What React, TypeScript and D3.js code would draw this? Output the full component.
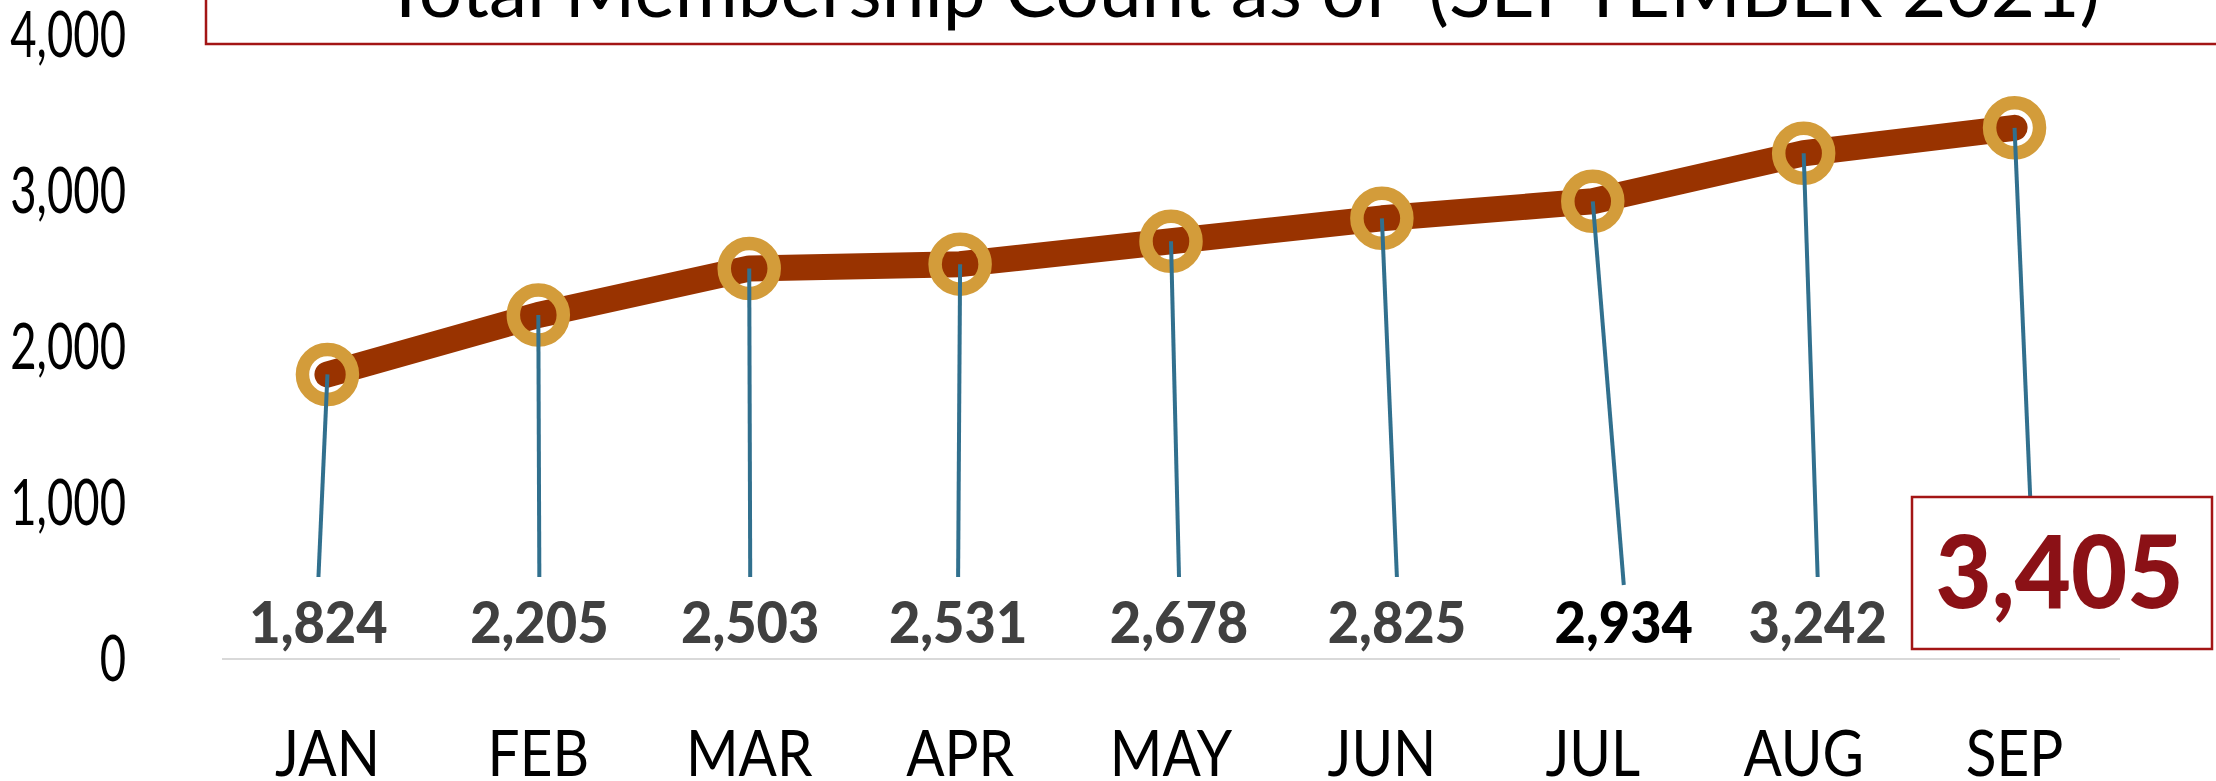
import React from 'react';
import * as d3 from 'd3';

const months = ['JAN', 'FEB', 'MAR', 'APR', 'MAY', 'JUN', 'JUL', 'AUG', 'SEP'];
const members = [1824, 2205, 2503, 2531, 2678, 2825, 2934, 3242, 3405];
const yTicks = [0, 1000, 2000, 3000, 4000];
const titleText = 'Total Membership Count as of  (SEPTEMBER 2021)';

// layout: horizontal shift of each callout label from its category centre (px)
const labelShift = [-9, 1, 1, -2, 8, 15, 31, 14, 20];
const leaderDrop = [0, 0, 0, 0, 0, 0, 8, 0, 0];

const FONT = 'Lato, "Open Sans", sans-serif';

export default function App() {
  const W = 2216;
  const H = 781;
  const x = d3.scaleBand<string>().domain(months).range([222, 2120]).padding(0);
  const cx = (m: string) => (x(m) as number) + x.bandwidth() / 2;
  const y = d3.scaleLinear().domain([0, 4000]).range([659, 35]);
  const fmt = d3.format(',');
  const lineGen = d3
    .line<number>()
    .x((_d, i) => cx(months[i]))
    .y((d) => y(d));

  const labelBase = 643;
  const last = members.length - 1;

  return (
    <svg
      width={W}
      height={H}
      style={{ position: 'absolute', left: 0, top: 0, background: '#fff' }}
      fontFamily={FONT}
    >
      {/* title box */}
      <rect x={206} y={-20} width={2120} height={64} fill="#fff" stroke="#A31515" strokeWidth={2.5} />
      <text
        x={383}
        y={17}
        fontSize={76}
        textLength={1717}
        lengthAdjust="spacingAndGlyphs"
        fill="#000"
        style={{ whiteSpace: 'pre' }}
      >
        {titleText}
      </text>

      {/* y axis labels */}
      {yTicks.map((t) => (
        <text
          key={t}
          transform={`translate(126,${y(t) + 22}) scale(0.71,1)`}
          textAnchor="end"
          fontSize={64}
          fill="#000"
        >
          {fmt(t)}
        </text>
      ))}

      {/* baseline */}
      <line x1={222} x2={2120} y1={y(0)} y2={y(0)} stroke="#D9D9D9" strokeWidth={2} />

      {/* month labels */}
      {months.map((m) => (
        <text
          key={m}
          transform={`translate(${cx(m)},776) scale(0.9,1)`}
          textAnchor="middle"
          fontSize={63}
          fill="#000"
        >
          {m}
        </text>
      ))}

      {/* data line */}
      <path
        d={lineGen(members) || ''}
        fill="none"
        stroke="#993300"
        strokeWidth={26}
        strokeLinejoin="round"
        strokeLinecap="round"
      />

      {/* markers */}
      {members.map((v, i) => (
        <circle key={i} cx={cx(months[i])} cy={y(v)} r={25} fill="none" stroke="#D39C3A" strokeWidth={13.5} />
      ))}

      {/* leader lines */}
      {members.map((v, i) => (
        <line
          key={i}
          x1={cx(months[i])}
          y1={y(v)}
          x2={cx(months[i]) + labelShift[i]}
          y2={i === last ? 600 : labelBase - 66 + leaderDrop[i]}
          stroke="#31708E"
          strokeWidth={4}
        />
      ))}

      {/* data labels */}
      {members.slice(0, last).map((v, i) => (
        <text
          key={i}
          transform={`translate(${cx(months[i]) + labelShift[i]},${labelBase}) scale(0.95,1)`}
          textAnchor="middle"
          fontSize={57}
          fontWeight={900}
          fill={i === 6 ? '#000' : '#404040'}
        >
          {fmt(v)}
        </text>
      ))}

      {/* highlighted latest value */}
      <rect x={1912} y={497} width={300} height={152} fill="#fff" stroke="#A31515" strokeWidth={2.5} />
      <text
        transform={`translate(${cx(months[last]) + 45},608) scale(0.96,1)`}
        textAnchor="middle"
        fontSize={101}
        fontWeight={900}
        fill="#8B1116"
      >
        {fmt(members[last])}
      </text>
    </svg>
  );
}
